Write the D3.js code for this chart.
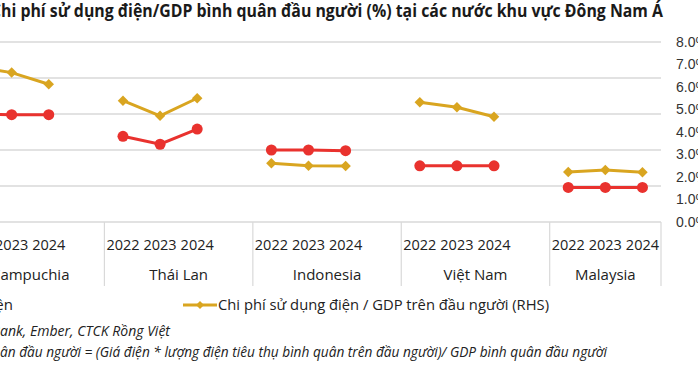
<!doctype html>
<html>
<head>
<meta charset="utf-8">
<style>
  * { margin: 0; padding: 0; }
  body { background: #fff; width: 698px; height: 367px; overflow: hidden; font-family: "Open Sans", Arial, sans-serif; }
  .title { font-size: 17px; font-weight: bold; fill: #1a1a1a; }
  .tick text { font-size: 14px; fill: #333; }
  .year { font-size: 14.5px; fill: #222; }
  .country { font-size: 15px; fill: #222; }
  .legend { font-size: 15px; fill: #222; }
  .note { font-size: 14px; font-style: italic; fill: #222; }
</style>
</head>
<body>
<div id="chart"></div>
<script src="https://cdn.jsdelivr.net/npm/d3@7"></script>
<script>
var countries = ['Campuchia', 'Thái Lan', 'Indonesia', 'Việt Nam', 'Malaysia'];
var years = ['2022', '2023', '2024'];
// giá điện (USD/kWh), trục trái
var giaDien = [
  [0.150, 0.149, 0.149],
  [0.119, 0.108, 0.129],
  [0.100, 0.100, 0.099],
  [0.078, 0.078, 0.078],
  [0.048, 0.048, 0.048]
];
// chi phí sử dụng điện / GDP đầu người (%), trục phải
var chiPhiGDP = [
  [6.90, 6.64, 6.12],
  [5.39, 4.72, 5.50],
  [2.61, 2.50, 2.49],
  [5.32, 5.10, 4.68],
  [2.22, 2.31, 2.21]
];
var rightTicks = [0, 1, 2, 3, 4, 5, 6, 7, 8];
var leftTicks = [0, 0.05, 0.10, 0.15, 0.20, 0.25];

var width = 698, height = 367;
var red = '#e9322e', gold = '#d9a520', grid = '#d9d9d9';

var svg = d3.select('#chart').append('svg').attr('width', width).attr('height', height);

// slots: 3 years + 1 blank per group, no blank after the last one
var slots = [];
countries.forEach(function(c, i) {
  years.forEach(function(y) { slots.push(c + '|' + y); });
  if (i < countries.length - 1) slots.push(c + '|blank');
});

var x = d3.scaleBand().domain(slots).range([-44, 661]);
var yL = d3.scaleLinear().domain([0, 0.25]).range([222, 42]);
var yR = d3.scaleLinear().domain([0, 8]).range([222, 42]);

// gridlines (from left axis)
svg.append('g').selectAll('line').data(leftTicks).enter().append('line')
  .attr('x1', x.range()[0]).attr('x2', x.range()[1])
  .attr('y1', function(d) { return yL(d); }).attr('y2', function(d) { return yL(d); })
  .attr('stroke', grid).attr('stroke-width', 1.5);

// right axis
var axR = svg.append('g').attr('transform', 'translate(661,0)')
  .call(d3.axisRight(yR).tickValues(rightTicks).tickSize(0).tickPadding(15)
    .tickFormat(function(d) { return d.toFixed(1) + '%'; }));
axR.select('.domain').remove();

// category axis: separators and labels
var groupEdges = [];
countries.forEach(function(c) { groupEdges.push(x(c + '|2022')); });
groupEdges.push(x.range()[1]);
svg.append('g').selectAll('line').data(groupEdges).enter().append('line')
  .attr('x1', function(d) { return d; }).attr('x2', function(d) { return d; })
  .attr('y1', 222).attr('y2', 286)
  .attr('stroke', grid).attr('stroke-width', 1.2);

countries.forEach(function(c, i) {
  years.forEach(function(y) {
    svg.append('text').attr('class', 'year')
      .attr('x', x(c + '|' + y) + x.bandwidth() / 2).attr('y', 250)
      .attr('text-anchor', 'middle').text(y);
  });
  svg.append('text').attr('class', 'country')
    .attr('x', (groupEdges[i] + groupEdges[i + 1]) / 2).attr('y', 280)
    .attr('text-anchor', 'middle').text(c);
});

// series
function pts(vals, scale) {
  var out = [];
  countries.forEach(function(c, i) {
    var group = years.map(function(y, j) {
      return [x(c + '|' + y) + x.bandwidth() / 2, scale(vals[i][j])];
    });
    out.push(group);
  });
  return out;
}
var line = d3.line();
var goldPts = pts(chiPhiGDP, yR);
var redPts = pts(giaDien, yL);

var gGold = svg.append('g');
goldPts.forEach(function(g) {
  gGold.append('path').attr('d', line(g)).attr('fill', 'none')
    .attr('stroke', gold).attr('stroke-width', 3);
  gGold.selectAll(null).data(g).enter().append('path')
    .attr('d', d3.symbol(d3.symbolDiamond2, 70))
    .attr('transform', function(d) { return 'translate(' + d[0] + ',' + d[1] + ')'; })
    .attr('fill', gold);
});

var gRed = svg.append('g');
redPts.forEach(function(g) {
  gRed.append('path').attr('d', line(g)).attr('fill', 'none')
    .attr('stroke', red).attr('stroke-width', 3);
  gRed.selectAll(null).data(g).enter().append('circle')
    .attr('cx', function(d) { return d[0]; }).attr('cy', function(d) { return d[1]; })
    .attr('r', 5.5).attr('fill', red);
});

// text that runs off the left edge: hidden prefix + fitted visible part
function cutText(cls, prefix, visible, x0, x1, y) {
  svg.append('text').attr('class', cls).attr('x', x0).attr('y', y)
    .attr('text-anchor', 'end').text(prefix);
  svg.append('text').attr('class', cls).attr('x', x0).attr('y', y)
    .attr('textLength', x1 - x0).attr('lengthAdjust', 'spacingAndGlyphs').text(visible);
}

cutText('title', 'C', 'hi phí sử dụng điện/GDP bình quân đầu người (%) tại các nước khu vực Đông Nam Á', 1, 663, 17);

// legend
svg.append('line').attr('x1', -60).attr('x2', -26).attr('y1', 305).attr('y2', 305)
  .attr('stroke', red).attr('stroke-width', 3);
svg.append('circle').attr('cx', -43).attr('cy', 305).attr('r', 4).attr('fill', red);
svg.append('text').attr('class', 'legend').attr('x', 13).attr('y', 310)
  .attr('text-anchor', 'end').text('Giá điện');

svg.append('line').attr('x1', 183).attr('x2', 217).attr('y1', 305).attr('y2', 305)
  .attr('stroke', gold).attr('stroke-width', 3);
svg.append('path').attr('d', d3.symbol(d3.symbolDiamond2, 40))
  .attr('transform', 'translate(200,305)').attr('fill', gold);
svg.append('text').attr('class', 'legend').attr('x', 218).attr('y', 310)
  .attr('textLength', 331).attr('lengthAdjust', 'spacingAndGlyphs')
  .text('Chi phí sử dụng điện / GDP trên đầu người (RHS)');

cutText('note', 'Nguồn: World B', 'ank, Ember, CTCK Rồng Việt', 0, 170, 336);
cutText('note', 'Ghi chú: Chi phí sử dụng điện/GDP bình qu',
  'ân đầu người = (Giá điện * lượng điện tiêu thụ bình quân trên đầu người)/ GDP bình quân đầu người', 0, 607, 357);
</script>
</body>
</html>
